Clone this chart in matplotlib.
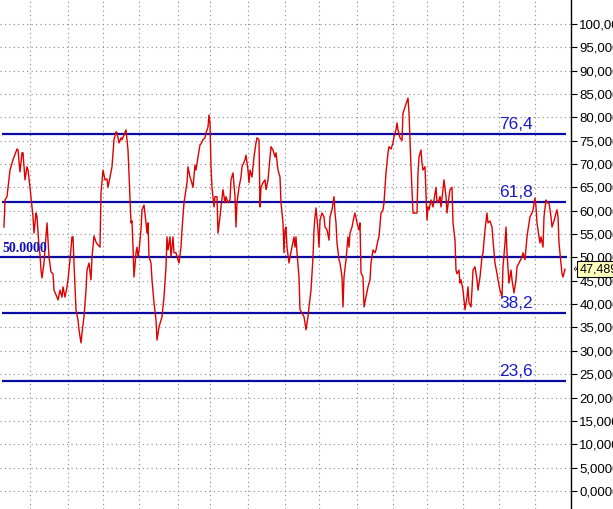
import matplotlib
matplotlib.use("Agg")
import matplotlib.pyplot as plt
import numpy as np

# oscillator readings (bar number, value)
bars = [4, 5, 7, 10, 13, 17, 18, 20, 22, 23, 25, 27, 28, 30, 32, 33, 34, 36, 37, 39,
        40, 41, 42, 44, 46, 47, 49, 51, 53, 54, 57, 58, 60, 62, 63, 65, 67, 68, 70, 72,
        73, 74, 76, 78, 79, 81, 82, 84, 86, 87, 89, 91, 92, 94, 96, 97, 100, 101, 103, 105,
        107, 108, 110, 112, 114, 116, 117, 119, 121, 122, 124, 126, 127, 128, 130, 131, 132, 133, 134, 136,
        137, 138, 139, 141, 142, 144, 146, 147, 148, 149, 151, 152, 154, 156, 157, 159, 161, 162, 164, 166,
        167, 168, 170, 171, 173, 174, 176, 177, 179, 181, 182, 184, 187, 188, 190, 191, 193, 195, 196, 198,
        200, 201, 203, 205, 206, 208, 209, 210, 211, 212, 214, 215, 217, 218, 220, 221, 223, 225, 226, 228,
        230, 231, 233, 235, 236, 237, 239, 241, 242, 245, 246, 248, 249, 250, 252, 254, 256, 257, 259, 260,
        261, 263, 265, 266, 268, 270, 271, 273, 275, 276, 278, 280, 281, 283, 284, 285, 286, 287, 289, 290,
        292, 294, 295, 296, 297, 299, 300, 302, 304, 305, 306, 308, 309, 311, 313, 314, 315, 316, 318, 319,
        320, 322, 324, 325, 327, 329, 330, 332, 334, 335, 336, 337, 339, 340, 342, 343, 344, 346, 348, 349,
        350, 352, 354, 355, 357, 359, 360, 361, 363, 364, 366, 368, 370, 371, 373, 375, 376, 378, 379, 381,
        383, 384, 386, 388, 389, 391, 393, 394, 396, 397, 398, 400, 402, 403, 405, 408, 409, 410, 411, 413,
        414, 417, 418, 419, 421, 422, 423, 425, 427, 428, 429, 431, 433, 434, 436, 437, 439, 440, 441, 443,
        444, 446, 447, 449, 450, 452, 453, 455, 456, 457, 459, 460, 461, 463, 465, 467, 468, 469, 471, 472,
        473, 475, 477, 478, 480, 482, 483, 485, 487, 488, 490, 492, 493, 495, 497, 498, 500, 502, 503, 505,
        506, 507, 509, 511, 512, 514, 516, 517, 519, 522, 523, 525, 527, 528, 530, 532, 533, 535, 536, 537,
        539, 540, 541, 543, 544, 546, 547, 549, 551, 552, 554, 556, 557, 558, 559, 561, 562, 563, 565]
osc = [56.5, 62.3, 63.0, 68.7, 70.9, 73.2, 73.0, 68.3, 72.4, 72.4, 66.6, 69.4, 68.7, 65.0, 60.8, 58.7, 55.2, 59.5, 58.7, 52.2,
       50.6, 47.3, 45.6, 48.8, 54.4, 57.4, 50.1, 46.9, 46.5, 43.0, 41.5, 40.9, 43.0, 41.5, 43.7, 41.5, 43.7, 45.2, 49.5, 54.4,
       54.4, 48.8, 38.8, 36.6, 34.5, 31.7, 33.8, 37.3, 43.0, 47.3, 48.8, 45.2, 50.1, 54.6, 53.3, 52.9, 52.2, 63.8, 68.7, 66.6,
       66.8, 65.0, 67.2, 69.4, 75.2, 76.9, 76.7, 74.5, 75.6, 75.2, 76.2, 77.3, 75.2, 73.0, 62.3, 57.4, 57.8, 52.2, 45.8, 51.0,
       52.2, 50.1, 51.4, 55.9, 60.2, 61.2, 57.4, 55.2, 57.4, 50.1, 48.8, 45.2, 40.3, 36.6, 32.3, 35.1, 36.6, 37.3, 41.5, 48.0,
       54.4, 51.6, 54.4, 50.1, 54.4, 51.0, 51.0, 50.1, 48.8, 52.2, 55.9, 61.7, 66.0, 69.4, 67.2, 66.6, 65.0, 69.8, 68.7, 71.5,
       74.1, 74.3, 75.2, 75.6, 76.7, 77.9, 80.5, 78.8, 69.4, 65.0, 60.8, 63.0, 63.0, 55.2, 58.7, 60.8, 64.5, 61.7, 63.0, 61.7,
       62.3, 66.6, 68.1, 63.0, 56.5, 61.7, 65.0, 67.2, 69.4, 70.9, 71.9, 68.7, 66.0, 68.7, 67.2, 71.5, 74.5, 75.6, 75.2, 60.8,
       65.0, 66.0, 66.6, 64.5, 66.6, 71.5, 73.7, 73.0, 71.5, 72.4, 68.7, 67.2, 61.7, 57.4, 51.0, 55.9, 56.5, 52.2, 48.8, 50.1,
       52.2, 54.4, 52.2, 54.4, 51.0, 45.8, 38.8, 38.1, 37.3, 36.0, 34.5, 37.3, 39.4, 43.0, 50.1, 55.9, 58.7, 60.6, 55.9, 52.2,
       58.0, 59.5, 58.7, 56.5, 55.9, 53.7, 58.7, 60.2, 63.0, 59.5, 57.4, 53.1, 49.5, 48.8, 45.8, 39.4, 45.8, 49.5, 54.4, 52.2,
       55.2, 56.5, 58.7, 59.5, 57.4, 55.9, 57.4, 46.7, 45.8, 39.4, 41.5, 43.7, 45.2, 48.8, 51.6, 51.0, 51.6, 53.7, 54.4, 59.5,
       60.2, 61.7, 68.1, 72.4, 73.7, 73.2, 74.5, 75.8, 77.3, 78.8, 77.3, 75.6, 75.0, 80.9, 82.2, 84.1, 80.9, 75.2, 69.4, 59.5,
       59.5, 59.5, 68.1, 71.5, 73.0, 70.2, 68.7, 69.4, 58.0, 60.8, 60.2, 62.3, 60.8, 62.3, 65.0, 61.7, 62.3, 63.0, 60.8, 64.5,
       66.6, 63.0, 59.5, 63.0, 64.5, 65.0, 57.4, 53.7, 47.3, 46.5, 47.3, 44.5, 45.2, 43.0, 38.8, 41.5, 43.7, 40.3, 39.4, 43.0,
       47.3, 48.0, 45.2, 43.0, 45.8, 50.1, 51.0, 55.9, 59.5, 57.4, 57.8, 56.5, 53.7, 48.8, 46.5, 45.2, 43.0, 41.5, 48.0, 53.1,
       56.5, 51.0, 44.5, 47.3, 45.2, 42.4, 45.2, 48.0, 48.8, 50.1, 51.0, 49.5, 54.4, 55.9, 58.7, 59.5, 60.2, 62.7, 60.8, 57.4,
       54.4, 53.1, 54.4, 52.2, 58.7, 62.3, 61.7, 61.7, 58.7, 56.5, 57.8, 59.5, 60.2, 58.7, 53.1, 48.8, 46.5, 45.8, 47.489]

levels = [76.4, 61.8, 38.2, 23.6]
level_labels = ["76,4", "61,8", "38,2", "23,6"]
mid_level = 50.0
date_grid = [30, 68, 103, 139, 178, 210, 248, 285, 319, 357, 393, 427, 463, 499, 535]
yticks = np.arange(0, 101, 5)

W, H = 613, 509
fig = plt.figure(figsize=(W / 100, H / 100), dpi=100)
fig.patch.set_facecolor("white")
ax = fig.add_axes([0, 0, 571 / W, 1])
ax.set_xlim(0, 571)
ax.set_ylim(-3.85, 105.1)

for s in ["left", "top", "bottom"]:
    ax.spines[s].set_visible(False)
ax.spines["right"].set_color("black")
ax.spines["right"].set_linewidth(1.0)

# dotted grid
dot = (0, (1, 3))
for v in yticks:
    ax.axhline(v, color="#8a8a8a", lw=0.8, ls=dot, zorder=1)
for b in date_grid:
    ax.axvline(b, color="#8a8a8a", lw=0.8, ls=dot, zorder=1)

# level lines
navy = "#0a0aa5"
for lv, lab in zip(levels, level_labels):
    ax.hlines(lv, 2, 566, color=navy, lw=1.6, zorder=2)
    ax.text(533, lv + 0.4, lab, color="#1c1cc8", fontsize=12.5,
            family="Liberation Sans", ha="right", va="bottom", zorder=4)
ax.hlines(mid_level, 0, 567, color=navy, lw=1.6, zorder=2)
ax.text(2, mid_level + 0.5, "50.0000", color="#1010b8", fontsize=10, fontweight="bold",
        family="Liberation Serif", ha="left", va="bottom", zorder=4)

ax.plot(bars, osc, color="#e00000", lw=1.0, zorder=3)

# right axis
ax.yaxis.tick_right()
ax.set_yticks(yticks)
ax.set_yticklabels([f"{v:.4f}".replace(".", ",") for v in yticks],
                   family=["Liberation Sans Narrow", "DejaVu Sans Condensed", "Liberation Sans"],
                   fontsize=9.5)
ax.tick_params(axis="y", direction="out", length=4, width=0.8, pad=2, colors="black")
ax.set_xticks([])

# last value tag
last = osc[-1]
ax.annotate("\u00ab", xy=(1.0, last), xycoords=("axes fraction", "data"),
            xytext=(1, 0), textcoords="offset points", fontsize=7, va="center", ha="left")
ax.annotate(f"{last:.3f}".replace(".", ","), xy=(1.0, last), xycoords=("axes fraction", "data"),
            xytext=(6, 0), textcoords="offset points", fontsize=9,
            family=["Liberation Sans Narrow", "DejaVu Sans Condensed", "Liberation Sans"],
            va="center", ha="left", annotation_clip=False,
            bbox=dict(boxstyle="square,pad=0.15", fc="#ffffc0", ec="black", lw=0.8))

fig.savefig("out.png", dpi=100)
